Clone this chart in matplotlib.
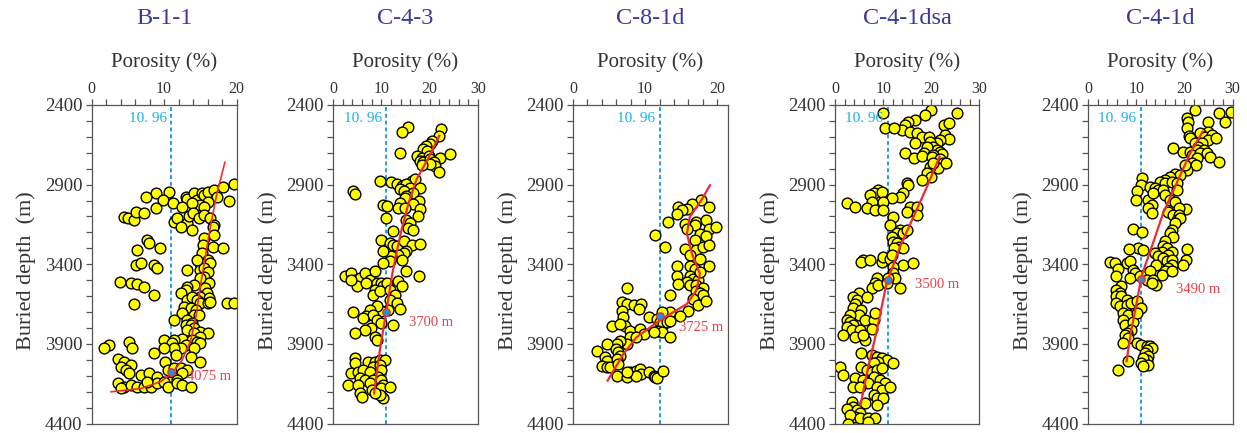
import matplotlib
matplotlib.use("Agg")
import matplotlib.pyplot as plt
from matplotlib.ticker import MultipleLocator

plt.rcParams['font.family'] = ['Liberation Serif', 'DejaVu Serif']

# ---------------- data ----------------
wells = ["B-1-1", "C-4-3", "C-8-1d", "C-4-1dsa", "C-4-1d"]
cutoff_label = "10. 96"
cutoff_x = [10.96, 10.96, 12.0, 10.96, 10.96]      # as drawn in each panel
cross_depth = [4075, 3700, 3725, 3500, 3490]
cross_label = ["4075 m", "3700 m", "3725 m", "3500 m", "3490 m"]
x_max = [20, 30, 21.5, 30, 30]
x_ticks = [[0, 10, 20], [0, 10, 20, 30], [0, 10, 20], [0, 10, 20, 30], [0, 10, 20, 30]]
y_ticks = [2400, 2900, 3400, 3900, 4400]

por_b11 = [10.7, 8.9, 7.5, 9.8, 11.2, 13.0, 13.2, 14.1, 14.6, 15.3, 15.5, 16.0, 16.9, 17.3, 18.2, 19.6, 18.9, 16.0, 12.5, 15.0, 13.9, 15.5,
           4.5, 5.0, 5.9, 6.1, 7.2, 8.9, 11.4, 11.8, 13.2, 13.4, 14.0, 14.8, 15.5, 16.4, 16.9, 16.7, 12.3, 13.9,
           7.7, 7.9, 9.5, 6.3, 15.5, 16.9, 15.4, 16.7, 18.2, 15.3, 16.0, 15.0, 16.4,
           6.1, 6.8, 8.6, 9.1, 13.2, 15.0, 15.5, 14.6, 16.0, 15.5, 16.2, 15.0, 14.1, 15.7, 15.9, 13.2, 13.0, 15.0, 16.2,
           3.9, 5.4, 6.3, 7.2, 8.6, 5.9,
           12.3, 13.2, 13.9, 14.6, 15.0, 16.0, 16.4, 18.7, 19.6, 12.8, 13.7, 14.4, 12.5, 14.1, 14.8, 13.2, 13.9, 11.4, 13.0, 13.7,
           14.1, 13.2, 15.0, 16.0, 14.1, 15.0,
           12.5, 13.9, 14.6, 15.0, 11.4, 10.0, 11.1, 13.0, 14.1, 12.3, 11.4, 10.0, 5.2, 5.6, 2.4, 1.7, 8.6, 11.6, 13.7, 15.0,
           3.6, 4.5, 4.0, 5.4, 4.7, 5.2, 6.8, 7.9, 9.1, 10.2, 10.5, 11.4, 12.3, 13.2, 12.5, 11.4, 10.7, 11.8,
           3.6, 4.5, 4.0, 5.4, 6.3, 7.2, 8.2, 9.1, 10.0, 10.5, 11.8, 12.5, 13.7, 7.7]
dep_b11 = [2944, 2955, 2976, 2997, 3014, 2976, 2993, 2951, 2997, 2955, 2965, 2944, 2934, 2976, 2913, 2896, 3001, 3007, 3039, 3028, 3018, 3039,
           3102, 3112, 3122, 3070, 3080, 3049, 3133, 3112, 3143, 3097, 3080, 3112, 3091, 3112, 3154, 3164, 3164, 3185,
           3248, 3269, 3300, 3311, 3238, 3217, 3279, 3290, 3300, 3332, 3374, 3395, 3395,
           3405, 3395, 3405, 3426, 3437, 3437, 3426, 3374, 3447, 3478, 3520, 3489, 3531, 3552, 3583, 3545, 3562, 3604, 3615,
           3510, 3520, 3524, 3541, 3594, 3650,
           3583, 3625, 3604, 3625, 3646, 3646, 3636, 3646, 3646, 3667, 3677, 3688, 3709, 3719, 3719, 3751, 3767, 3751, 3782, 3782,
           3803, 3813, 3824, 3830, 3834, 3855,
           3872, 3876, 3887, 3897, 3876, 3876, 3897, 3908, 3929, 3929, 3929, 3929, 3887, 3929, 3908, 3929, 3960, 3971, 3981, 4012,
           3992, 4012, 4044, 4033, 4061, 4086, 4096, 4082, 4107, 4012, 4065, 4054, 4054, 4065, 4086, 4117, 4138, 4128,
           4148, 4169, 4174, 4159, 4169, 4169, 4169, 4148, 4138, 4169, 4148, 4159, 4169, 4138]

por_c43 = [15.6, 14.2, 22.3, 22.0, 20.4, 20.1, 19.3, 18.7, 19.4, 13.9, 17.3, 18.4, 19.8, 22.2, 24.3, 18.0, 18.7, 20.1, 20.8, 21.1, 22.0, 20.1, 18.4,
           9.7, 12.1, 13.2, 14.2, 16.3, 17.0, 15.2, 15.9, 18.0, 13.9, 14.6, 16.6, 15.2, 14.8, 17.7, 4.2, 4.5,
           10.4, 11.1, 13.9, 13.5, 16.6, 14.9, 17.9, 17.5, 10.9, 15.2, 15.9, 15.6, 16.6, 12.5,
           10.0, 11.8, 12.5, 13.2, 14.6, 16.3, 18.0, 15.2, 14.6, 13.5, 12.1, 14.2, 10.4, 11.8, 17.7, 15.2, 10.4,
           2.4, 3.8, 4.5, 5.5, 6.6, 7.6, 8.7, 4.9, 3.8, 6.9, 9.0, 10.0, 10.4, 11.1, 8.7, 8.3, 9.7, 11.8, 13.5, 14.2, 12.8, 11.8,
           13.2, 13.9, 11.4, 10.0, 9.0, 7.6, 6.9, 8.3, 6.2, 4.2, 9.0, 10.0, 7.8, 6.6, 12.5, 4.5, 8.7, 9.0,
           4.5, 4.5, 7.3, 8.7, 9.7, 10.7, 8.3, 9.7, 3.8, 5.2, 6.2, 7.6, 10.0, 5.5, 6.6, 9.4, 8.3, 10.0,
           3.1, 5.2, 7.6, 10.4, 5.5, 5.9, 8.0, 10.0, 11.8, 10.3, 9.7, 8.7]
dep_c43 = [2541, 2572, 2551, 2593, 2625, 2646, 2656, 2677, 2688, 2703, 2719, 2730, 2719, 2730, 2709, 2751, 2761, 2736, 2761, 2782, 2820, 2772, 2776,
           2877, 2883, 2898, 2908, 2877, 2866, 2898, 2919, 2919, 2929, 2940, 2950, 2971, 2986, 3003, 2940, 2961,
           3030, 3035, 3014, 3045, 3024, 3045, 3056, 3098, 3108, 3119, 3140, 3171, 3182, 3192,
           3245, 3266, 3276, 3287, 3255, 3276, 3272, 3318, 3329, 3345, 3350, 3371, 3318, 3381, 3472, 3444, 3392,
           3476, 3455, 3497, 3486, 3455, 3497, 3444, 3539, 3497, 3518, 3518, 3518, 3539, 3518, 3560, 3591, 3570, 3560, 3507, 3539, 3591, 3623,
           3644, 3682, 3686, 3696, 3665, 3686, 3728, 3717, 3738, 3700, 3749, 3766, 3801, 3812, 3780, 3833, 3854, 3875,
           3990, 4022, 4011, 4011, 4001, 4001, 4043, 4032, 4085, 4075, 4064, 4075, 4064, 4117, 4127, 4106, 4127, 4127,
           4159, 4159, 4148, 4159, 4211, 4232, 4190, 4180, 4169, 4243, 4222, 4211]

por_c81 = [17.8, 16.5, 15.8, 14.6, 15.1, 14.4, 18.8, 15.5, 13.2, 17.1, 16.9, 15.8, 18.5, 18.8, 19.9, 11.4, 17.6, 18.5, 16.9,
           12.8, 15.5, 17.1, 18.1, 18.9, 16.2, 17.6, 18.8, 14.4, 14.4, 16.2, 16.9, 16.2, 16.7, 17.4, 15.8, 17.6, 14.6, 16.2,
           17.1, 18.1, 17.1, 17.6, 18.1, 16.7, 17.4, 18.4, 13.5, 16.0, 14.8, 13.5,
           7.5, 6.8, 7.5, 8.4, 9.5, 6.8, 7.0, 9.1, 7.2, 7.9, 10.5, 11.6, 12.3, 12.1, 12.5, 13.0, 13.5, 11.8, 12.3, 13.5,
           5.4, 6.5, 7.9, 9.3, 9.8, 11.2, 7.5, 8.8, 6.5, 6.1, 4.7, 3.3, 5.9, 6.3, 6.5, 4.5, 4.7, 4.0, 4.7, 5.2, 6.1, 6.3,
           6.1, 7.5, 7.9, 8.8, 9.3, 9.5, 10.5, 11.2, 11.4, 11.6, 8.8, 12.5, 7.5]
dep_c81 = [2998, 3019, 3051, 3040, 3061, 3082, 3040, 3145, 3135, 3135, 3156, 3177, 3124, 3177, 3166, 3219, 3208, 3225, 3250,
           3292, 3303, 3313, 3292, 3282, 3345, 3366, 3408, 3408, 3471, 3408, 3429, 3471, 3491, 3502, 3512, 3450, 3523, 3533,
           3533, 3548, 3565, 3582, 3596, 3617, 3659, 3628, 3596, 3691, 3722, 3701,
           3548, 3638, 3649, 3659, 3649, 3691, 3733, 3680, 3785, 3817, 3733, 3743, 3701, 3764, 3775, 3764, 3754, 3817, 3827, 3859,
           3785, 3775, 3859, 3806, 3838, 3827, 3901, 3859, 3880, 3901, 3901, 3943, 3932, 3953, 3974, 3985, 4006, 4037, 4048, 4048, 3995, 4027,
           4100, 4111, 4079, 4069, 4058, 4090, 4079, 4100, 4111, 4115, 4100, 4073, 4079]

por_c41dsa = [10.0, 19.9, 18.7, 25.4, 16.6, 15.2, 14.6, 13.9, 10.4, 12.3, 15.5, 17.0, 18.0, 19.6, 22.7, 23.6, 22.9, 23.6, 21.8, 21.1,
              19.8, 20.4, 21.1, 21.8, 22.2, 16.6, 19.1, 14.6, 18.4, 20.4, 16.3, 18.0, 20.1, 21.8, 22.5, 21.3, 19.8, 20.4, 23.1,
              19.1, 19.9, 18.0, 14.9, 15.2, 9.0, 8.0, 7.3, 9.7, 14.2, 13.5, 11.8, 7.6, 2.4, 4.2, 6.6, 8.3, 10.0, 10.0,
              15.6, 17.0, 14.9, 17.0, 12.1, 11.4, 13.5, 12.8, 14.2, 14.9, 11.8, 12.1, 12.8, 13.2, 14.2, 12.3,
              5.9, 5.3, 7.3, 9.7, 10.0, 11.4, 11.8, 14.2, 16.1, 12.1, 12.1, 12.5, 11.1, 8.7, 8.3, 7.6, 9.0, 10.7, 13.5,
              4.9, 3.8, 4.5, 4.2, 3.8, 6.6, 5.5, 4.9, 3.1, 2.4, 3.1, 3.8, 2.4, 3.5, 5.2, 6.2, 8.0, 8.3, 7.6,
              1.7, 4.2, 6.2, 5.9, 5.5, 7.6, 8.7, 9.7, 10.7, 12.1, 9.0, 8.0, 1.0, 1.7, 5.5, 6.6, 7.6, 8.7, 9.7,
              4.2, 5.9, 8.0, 9.4, 10.4, 6.9, 3.8, 5.2, 8.7, 9.7, 11.4, 8.0, 8.7, 10.0, 6.2, 8.7, 3.5, 3.8, 2.4, 4.5,
              5.2, 4.2, 3.1, 5.2, 6.9, 8.3, 2.8, 6.9]
dep_c41dsa = [2448, 2431, 2463, 2452, 2494, 2505, 2526, 2557, 2542, 2547, 2568, 2578, 2599, 2599, 2526, 2515, 2588, 2616, 2620, 2641,
              2630, 2662, 2683, 2693, 2710, 2641, 2662, 2704, 2699, 2714, 2735, 2720, 2725, 2741, 2766, 2798, 2787, 2766, 2766,
              2829, 2850, 2871, 2892, 2903, 2934, 2951, 2965, 2944, 2955, 2976, 2986, 3007, 3018, 3039, 3049, 3060, 3007, 3060,
              3039, 3039, 3070, 3091, 3106, 3154, 3185, 3206, 3206, 3185, 3227, 3259, 3269, 3290, 3300, 3300,
              3374, 3384, 3374, 3384, 3353, 3370, 3342, 3405, 3395, 3416, 3457, 3489, 3489, 3489, 3520, 3552, 3531, 3520, 3552,
              3583, 3604, 3625, 3650, 3677, 3604, 3688, 3719, 3719, 3751, 3761, 3782, 3793, 3813, 3813, 3751, 3751, 3709, 3809,
              3845, 3855, 3876, 3845, 3960, 3971, 3981, 3991, 4002, 4023, 4012, 4023, 4044, 4096, 4044, 4065, 4075, 4065, 4054,
              4117, 4128, 4107, 4128, 4148, 4148, 4169, 4169, 4169, 4190, 4169, 4222, 4243, 4243, 4274, 4285, 4264, 4295, 4306, 4316,
              4337, 4358, 4348, 4368, 4368, 4368, 4400, 4389]

por_c41d = [22.2, 27.1, 29.7, 20.5, 20.8, 25.0, 28.5, 20.5, 21.0, 25.0, 23.3, 24.3, 25.7, 25.0, 26.6, 21.2, 22.2, 23.6, 22.9,
            17.6, 19.8, 21.2, 22.6, 24.0, 21.5, 23.3, 24.7, 25.3, 27.1, 22.6, 21.5, 22.4, 20.5, 20.1, 18.1, 19.1, 17.0, 16.0, 14.9, 16.0,
            11.3, 11.1, 12.8, 13.9, 14.6, 15.6, 17.4, 18.4, 18.4, 16.0, 17.0, 18.1, 20.3, 18.8,
            10.1, 9.9, 12.5, 13.5, 13.2, 12.5, 13.3, 16.7, 17.7, 18.8, 18.4, 19.1, 18.1, 17.4, 17.0, 17.7, 16.0, 15.6, 16.3, 17.4, 15.3, 16.7,
            9.4, 11.3, 10.4, 8.5, 11.5, 13.9, 14.6, 15.6, 16.3, 17.4, 14.2, 17.4, 16.7, 16.0, 15.3, 17.4, 20.5, 20.3, 19.8,
            4.5, 5.7, 6.3, 8.0, 8.7, 9.4, 9.7, 5.9, 8.7, 10.8, 12.2, 12.8, 12.2, 13.5, 14.2, 13.2,
            6.9, 5.9, 6.6, 5.9, 6.9, 8.0, 5.9, 6.6, 8.0, 9.0, 10.1, 7.3, 8.3, 7.3, 7.6, 9.4, 9.0, 8.0, 11.1, 10.1, 7.6, 8.3,
            7.3, 10.1, 11.1, 12.2, 12.8, 13.2, 12.2, 11.8, 12.5, 12.2, 11.5, 11.1, 12.5, 11.5, 8.3, 6.3]
dep_c41d = [2431, 2448, 2442, 2484, 2505, 2505, 2505, 2546, 2594, 2567, 2578, 2599, 2588, 2619, 2609, 2609, 2640, 2640, 2661,
            2668, 2693, 2693, 2682, 2682, 2714, 2703, 2703, 2724, 2755, 2734, 2766, 2776, 2808, 2776, 2833, 2839, 2849, 2870, 2881, 2891,
            2860, 2902, 2912, 2923, 2933, 2933, 2881, 2891, 2933, 2964, 2996, 3006, 3054, 3048,
            2943, 2996, 2996, 2954, 3027, 3048, 3079, 3069, 3090, 3090, 3121, 3111, 3142, 3184, 3205, 3226, 3257, 3288, 3299, 3320, 3320, 3341,
            3180, 3200, 3299, 3305, 3309, 3330, 3351, 3361, 3382, 3372, 3403, 3403, 3424, 3445, 3466, 3445, 3305, 3372, 3403,
            3386, 3393, 3430, 3393, 3382, 3435, 3455, 3476, 3487, 3476, 3455, 3445, 3497, 3497, 3529, 3518,
            3539, 3560, 3581, 3602, 3602, 3623, 3644, 3664, 3654, 3644, 3633, 3706, 3717, 3748, 3779, 3765, 3811, 3832, 3675, 3706, 3842, 3863,
            3894, 3894, 3905, 3911, 3915, 3926, 3936, 3957, 3978, 3999, 3988, 4020, 4030, 4041, 4009, 4062]

# fitted trend curves (porosity, depth)
trend_por = [
    [2.7, 6.8, 9.5, 11.1, 12.5, 13.7, 14.4, 15.0, 15.7, 16.4, 17.3, 18.4],
    [8.5, 9.7, 11.0, 12.3, 13.2, 14.2, 15.6, 17.3, 19.8, 22.0],
    [4.8, 5.9, 7.0, 8.8, 10.7, 12.0, 13.9, 15.8, 17.1, 17.6, 16.5, 15.8, 16.2, 17.8, 19.0],
    [5.3, 6.9, 8.7, 10.7, 13.5, 16.3, 19.1, 21.7],
    [8.0, 9.0, 10.1, 11.1, 11.8, 13.5, 15.6, 18.4, 21.2, 23.8],
]
trend_dep = [
    [4201, 4180, 4138, 4086, 4002, 3876, 3730, 3541, 3353, 3164, 2955, 2760],
    [4211, 3938, 3700, 3455, 3320, 3181, 3020, 2866, 2730, 2593],
    [4131, 4047, 3963, 3859, 3796, 3754, 3701, 3649, 3565, 3460, 3334, 3208, 3103, 2998, 2904],
    [4285, 4044, 3814, 3520, 3290, 3102, 2913, 2725],
    [4009, 3811, 3643, 3476, 3414, 3267, 3079, 2891, 2703, 2567],
]

por_all = [por_b11, por_c43, por_c81, por_c41dsa, por_c41d]
dep_all = [dep_b11, dep_c43, dep_c81, dep_c41dsa, dep_c41d]

# ---------------- layout (pixels) ----------------
W, H = 1247, 433
ax_left = [91.5, 333, 573, 835, 1088]
ax_right = [236.5, 478, 728, 979.5, 1232.5]
ax_top, ax_bot = 105, 423.5
label_off = [(16, 5), (23, 10), (19, 11), (27, 4), (35, 11)]

title_c = "#3a3a96"
text_c = "#333333"
blue_line = "#1d9fe3"
blue_text = "#19aff0"
red_c = "#ee2a36"
red_text = "#e8404a"

fig = plt.figure(figsize=(W / 100, H / 100), dpi=100)

for i in range(5):
    l, r = ax_left[i], ax_right[i]
    ax = fig.add_axes([l / W, (H - ax_bot) / H, (r - l) / W, (ax_bot - ax_top) / H])
    ax.set_xlim(0, x_max[i])
    ax.set_ylim(4400, 2400)
    ax.xaxis.tick_top()
    ax.xaxis.set_label_position('top')
    ax.set_xticks(x_ticks[i])
    ax.xaxis.set_minor_locator(MultipleLocator(2))
    ax.set_yticks(y_ticks)
    ax.yaxis.set_minor_locator(MultipleLocator(100))
    ax.tick_params(axis='x', which='both', direction='out', length=4, width=0.9, color='#555555',
                   labelsize=11.5, labelcolor=text_c, pad=2)
    ax.tick_params(axis='y', which='both', direction='out', length=4.5, width=0.9, color='#555555',
                   labelsize=13.5, labelcolor=text_c, pad=2)
    for sp in ax.spines.values():
        sp.set_color('#555555')
        sp.set_linewidth(0.9)
    ax.set_xlabel("Porosity (%)", fontsize=15, color=text_c, labelpad=10)

    # cutoff line
    cx = cutoff_x[i]
    ax.axvline(cx, color=blue_line, lw=1.4, ls=(0, (2, 1.5)), zorder=1)
    ax.annotate(cutoff_label, xy=(cx, 2400), xytext=(-3, -10), textcoords='offset points',
                ha='right', va='center', fontsize=11, color=blue_text)

    # points
    ax.scatter(por_all[i], dep_all[i], s=60, c='#ffff00', edgecolors='black', linewidths=1.0, zorder=2)

    # trend
    ax.plot(trend_por[i], trend_dep[i], color=red_c, lw=1.6 if i else 1.2, zorder=3)

    # crossing point
    ax.scatter([cx], [cross_depth[i]], s=28, c='#2a8fe0', edgecolors=red_c, linewidths=1.0, zorder=4)
    dx, dy = label_off[i]
    ax.annotate(cross_label[i], xy=(cx, cross_depth[i]), xytext=(dx * 0.72, -dy * 0.72),
                textcoords='offset points', ha='left', va='center', fontsize=10.5, color=red_text)

    # title & ylabel
    cxp = (l + r) / 2
    fig.text(cxp / W, 1 - 19 / H, wells[i], ha='center', va='center', fontsize=17.5, color=title_c)
    fig.text((l - 65) / W, 1 - 271 / H, "Buried depth  (m)", rotation=90, ha='center', va='center',
             fontsize=16, color=text_c)

fig.savefig("out.png", dpi=100)
